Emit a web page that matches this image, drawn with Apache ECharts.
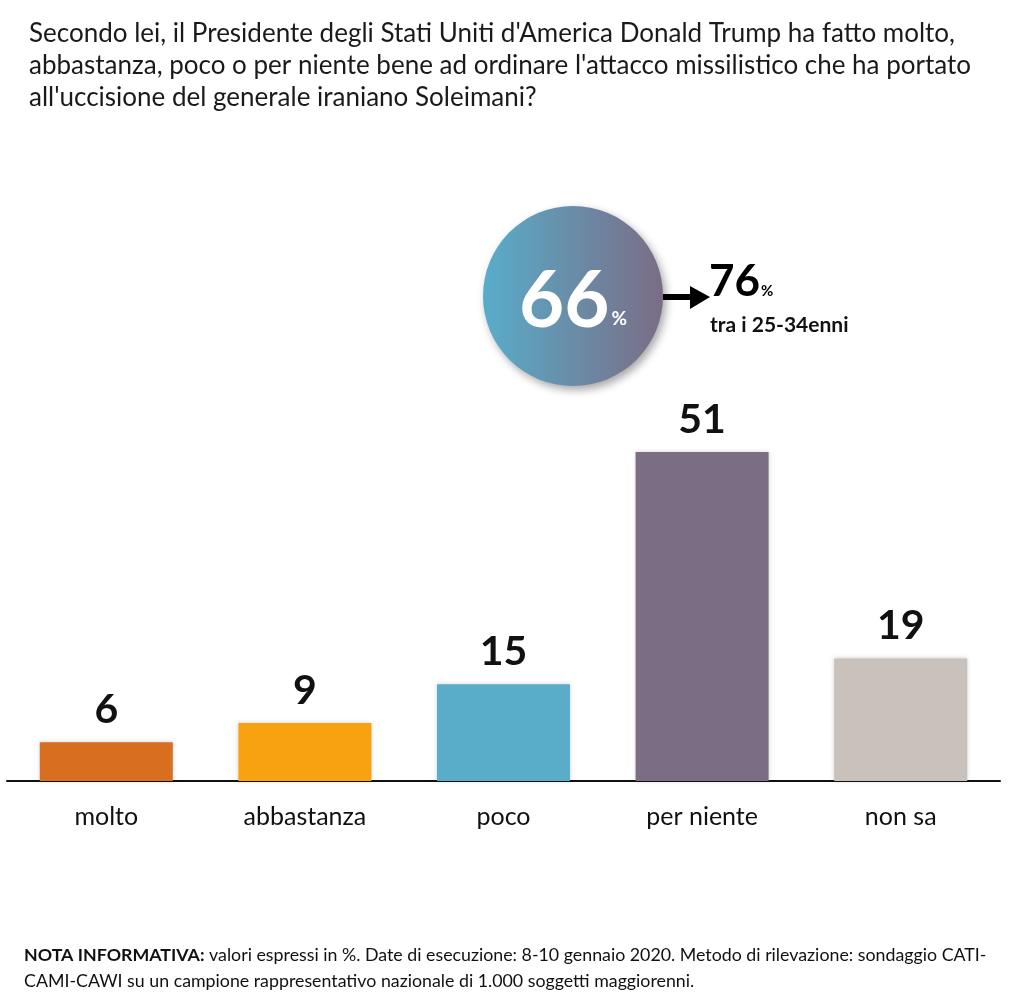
<!DOCTYPE html>
<html>
<head>
<meta charset="utf-8">
<script src="https://cdn.jsdelivr.net/npm/echarts@6/dist/echarts.min.js"></script>
<style>
html,body{margin:0;padding:0;background:#fff;}
#chart{width:1016px;height:1003px;}
</style>
</head>
<body>
<div id="chart"></div>
<script>
var categories = ['molto', 'abbastanza', 'poco', 'per niente', 'non sa'];
var values = [6, 9, 15, 51, 19];
var barColors = ['#D86E20', '#F8A212', '#59ADC8', '#7A6D84', '#C9C1BB'];
var titleLines = [
  "Secondo lei, il Presidente degli Stati Uniti d'America Donald Trump ha fatto molto,",
  "abbastanza, poco o per niente bene ad ordinare l'attacco missilistico che ha portato",
  "all'uccisione del generale iraniano Soleimani?"
];
var highlightTotal = '66';
var highlightGroup = '76';
var highlightGroupLabel = 'tra i 25-34enni';

var FONT = 'Lato, "Open Sans", sans-serif';

var chart = echarts.init(document.getElementById('chart'));

var data = values.map(function (v, i) {
  return { value: v, itemStyle: { color: barColors[i] } };
});

chart.setOption({
  backgroundColor: '#ffffff',
  animation: false,
  title: {
    text: titleLines.join('\n'),
    left: 24,
    top: 13,
    textStyle: { fontFamily: FONT, fontSize: 26, fontWeight: 'normal', color: '#1a1a1a', lineHeight: 32 }
  },
  grid: { left: 7, right: 16, top: 394, height: 387, containLabel: false },
  xAxis: {
    type: 'category',
    data: categories,
    axisLine: { show: true, lineStyle: { color: '#111', width: 2 } },
    axisTick: { show: false },
    axisLabel: { fontFamily: FONT, fontSize: 25, color: '#111', margin: 23 }
  },
  yAxis: {
    type: 'value',
    min: 0,
    max: 60,
    show: false,
    splitLine: { show: false }
  },
  series: [{
    type: 'bar',
    data: data,
    barWidth: 133,
    itemStyle: { shadowBlur: 4, shadowColor: 'rgba(0,0,0,0.18)' },
    label: {
      show: true,
      position: 'top',
      distance: 12,
      fontFamily: FONT,
      fontWeight: 'bold',
      fontSize: 41,
      color: '#111'
    }
  }],
  graphic: [
    {
      type: 'circle',
      shape: { cx: 573, cy: 296, r: 90 },
      style: {
        fill: new echarts.graphic.LinearGradient(0, 0, 1, 0, [
          { offset: 0, color: '#58ADCA' },
          { offset: 1, color: '#7B6C85' }
        ]),
        shadowBlur: 8,
        shadowOffsetX: 3,
        shadowOffsetY: 4,
        shadowColor: 'rgba(0,0,0,0.35)'
      }
    },
    {
      type: 'text',
      x: 573,
      y: 302,
      style: {
        text: '{a|' + highlightTotal + '}{b|%}',
        align: 'center',
        verticalAlign: 'middle',
        rich: {
          a: { fontFamily: FONT, fontWeight: 'bold', fontSize: 78, fill: '#fff', color: '#fff' },
          b: { fontFamily: FONT, fontWeight: 'bold', fontSize: 19, fill: '#fff', color: '#fff', padding: [34, 0, 0, 2] }
        }
      }
    },
    {
      type: 'line',
      shape: { x1: 663, y1: 297, x2: 698, y2: 297 },
      style: { stroke: '#000', lineWidth: 6 }
    },
    {
      type: 'polygon',
      shape: { points: [[690, 286], [710, 297], [690, 309]] },
      style: { fill: '#000' }
    },
    {
      type: 'text',
      x: 709,
      y: 282,
      style: {
        text: '{a|' + highlightGroup + '}{b|%}',
        align: 'left',
        verticalAlign: 'middle',
        rich: {
          a: { fontFamily: FONT, fontWeight: 'bold', fontSize: 44, fill: '#000', color: '#000' },
          b: { fontFamily: FONT, fontWeight: 'bold', fontSize: 15, fill: '#000', color: '#000', padding: [18, 0, 0, 1] }
        }
      }
    },
    {
      type: 'text',
      x: 710,
      y: 325,
      style: {
        text: highlightGroupLabel,
        align: 'left',
        verticalAlign: 'middle',
        font: 'bold 21px ' + FONT,
        fill: '#111'
      }
    },
    {
      type: 'text',
      x: 24,
      y: 955,
      style: {
        text: '{b|NOTA INFORMATIVA:} valori espressi in %. Date di esecuzione: 8-10 gennaio 2020. Metodo di rilevazione: sondaggio CATI-',
        align: 'left',
        verticalAlign: 'middle',
        font: '17.8px ' + FONT,
        fill: '#111',
        rich: { b: { fontFamily: FONT, fontWeight: 'bold', fontSize: 17.8, fill: '#111', color: '#111' } }
      }
    },
    {
      type: 'text',
      x: 24,
      y: 981,
      style: {
        text: 'CAMI-CAWI su un campione rappresentativo nazionale di 1.000 soggetti maggiorenni.',
        align: 'left',
        verticalAlign: 'middle',
        font: '17.8px ' + FONT,
        fill: '#111'
      }
    }
  ]
});
</script>
</body>
</html>
